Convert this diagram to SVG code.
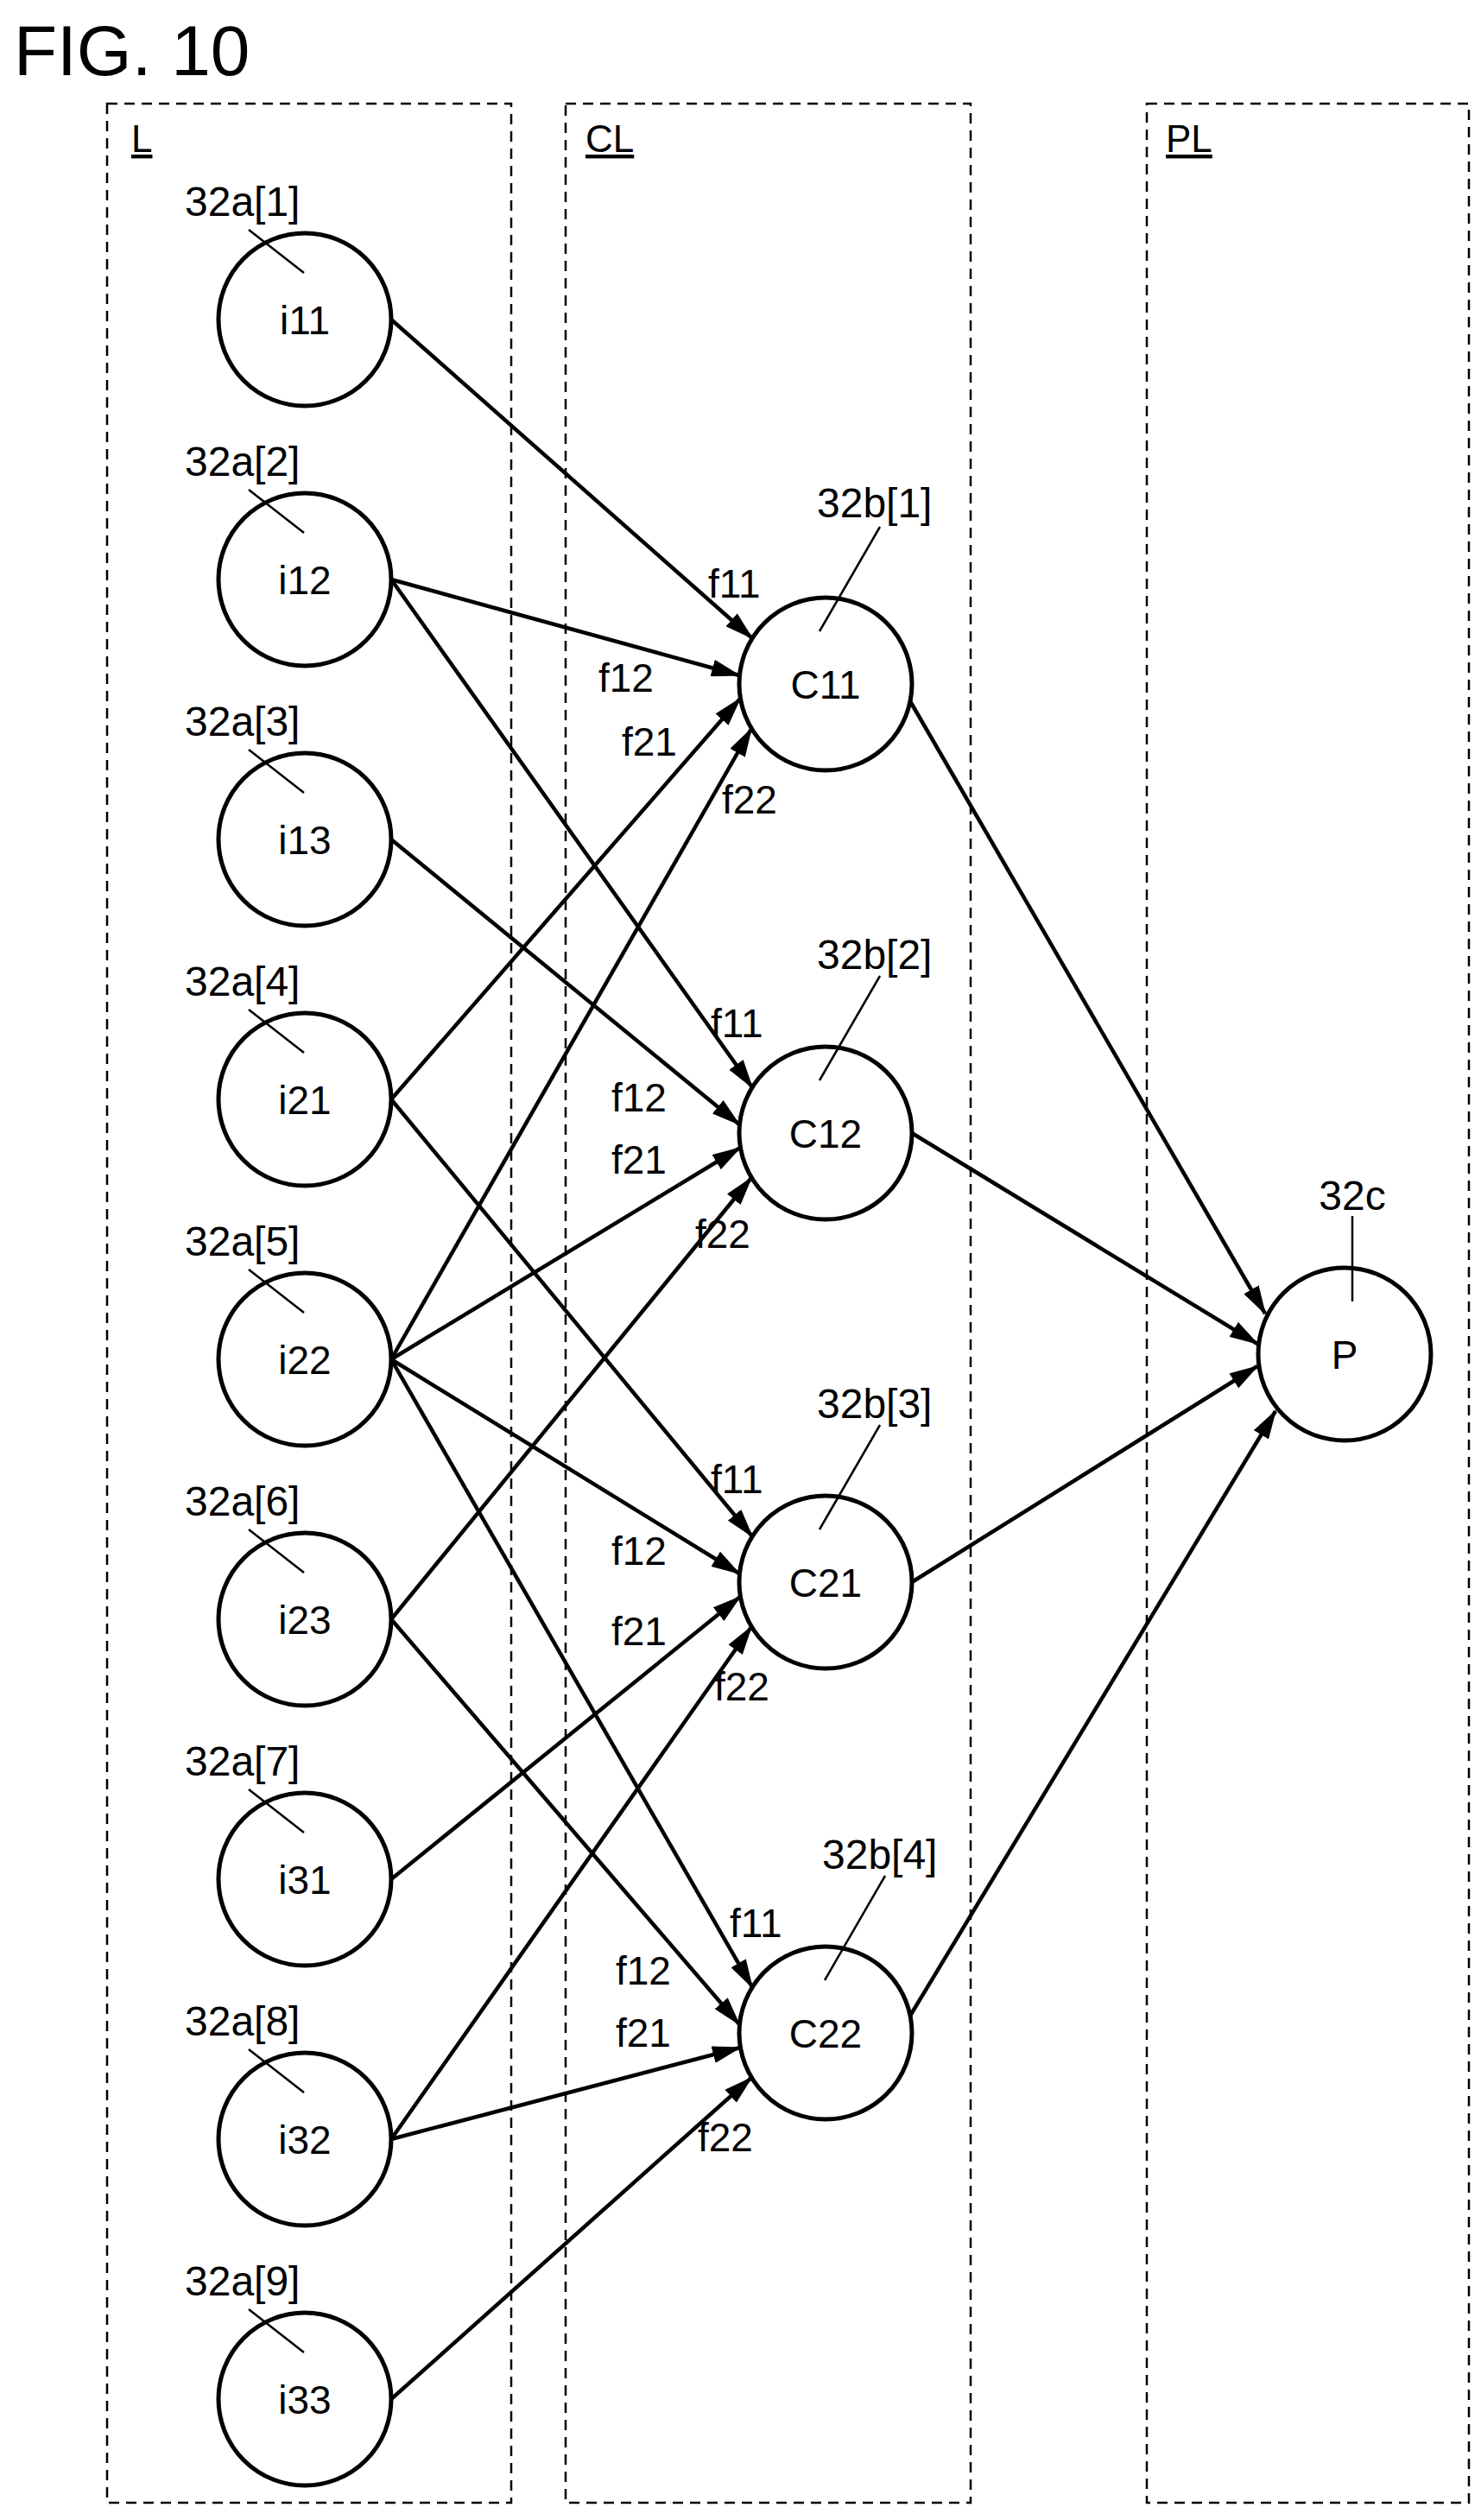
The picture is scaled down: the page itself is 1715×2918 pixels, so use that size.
<svg xmlns="http://www.w3.org/2000/svg" width="1715" height="2918" viewBox="0 0 1715 2918">
<style>
text{font-family:"Liberation Sans",Arial,sans-serif;fill:#000}
.box{fill:none;stroke:#000;stroke-width:2.5;stroke-dasharray:12 8}
.n{fill:#fff;stroke:#000;stroke-width:5}
.nl{font-size:46px;text-anchor:middle}
.ref{font-size:48px}
.ld{stroke:#000;stroke-width:2.5}
.e{stroke:#000;stroke-width:4.5;fill:none;marker-end:url(#ah)}
.el{font-size:46px}
.bl{font-size:44px;text-decoration:underline}
</style>
<defs>
<marker id="ah" markerUnits="userSpaceOnUse" markerWidth="34" markerHeight="20" viewBox="0 0 34 20" refX="32" refY="10" orient="auto">
<path d="M0,0 L34,10 L0,20 Z" fill="#000"/>
</marker>
</defs>
<rect width="1715" height="2918" fill="#fff"/>
<text x="16" y="87" font-size="82">FIG. 10</text>
<g id="layers">
<rect class="box" x="124" y="120" width="468" height="2778"/>
<rect class="box" x="655" y="120" width="469" height="2778"/>
<rect class="box" x="1328" y="120" width="373" height="2778"/>
<text class="bl" x="152" y="176">L</text>
<text class="bl" x="678" y="176">CL</text>
<text class="bl" x="1350" y="176">PL</text>
</g>
<g id="connectors">
<line class="e" x1="453" y1="370" x2="871" y2="739"/>
<line class="e" x1="453" y1="671" x2="856" y2="782"/>
<line class="e" x1="453" y1="1273" x2="857" y2="809"/>
<line class="e" x1="453" y1="1574" x2="870" y2="844"/>
<line class="e" x1="453" y1="671" x2="871" y2="1259"/>
<line class="e" x1="453" y1="972" x2="856" y2="1302"/>
<line class="e" x1="453" y1="1574" x2="857" y2="1329"/>
<line class="e" x1="453" y1="1875" x2="870" y2="1364"/>
<line class="e" x1="453" y1="1273" x2="871" y2="1779"/>
<line class="e" x1="453" y1="1574" x2="856" y2="1822"/>
<line class="e" x1="453" y1="2176" x2="857" y2="1849"/>
<line class="e" x1="453" y1="2477" x2="870" y2="1884"/>
<line class="e" x1="453" y1="1574" x2="871" y2="2301"/>
<line class="e" x1="453" y1="1875" x2="856" y2="2344"/>
<line class="e" x1="453" y1="2477" x2="857" y2="2371"/>
<line class="e" x1="453" y1="2778" x2="870" y2="2406"/>
<line class="e" x1="1054" y1="812" x2="1465" y2="1521"/>
<line class="e" x1="1056" y1="1312" x2="1456" y2="1556"/>
<line class="e" x1="1056" y1="1832" x2="1456" y2="1582"/>
<line class="e" x1="1054" y1="2334" x2="1477" y2="1634"/>
</g>
<g id="edge-labels">
<text class="el" x="820" y="692">f11</text><text class="el" x="693" y="801">f12</text><text class="el" x="720" y="875">f21</text><text class="el" x="836" y="942">f22</text>
<text class="el" x="823" y="1201">f11</text><text class="el" x="708" y="1287">f12</text><text class="el" x="708" y="1359">f21</text><text class="el" x="805" y="1445">f22</text>
<text class="el" x="823" y="1729">f11</text><text class="el" x="708" y="1812">f12</text><text class="el" x="708" y="1905">f21</text><text class="el" x="827" y="1969">f22</text>
<text class="el" x="845" y="2243">f11</text><text class="el" x="713" y="2298">f12</text><text class="el" x="713" y="2370">f21</text><text class="el" x="808" y="2491">f22</text>
</g>
<g id="i11"><circle class="n" cx="353" cy="370" r="100"/><text class="nl" x="353" y="387">i11</text><text class="ref" x="214" y="250">32a[1]</text><line class="ld" x1="288" y1="266" x2="352" y2="316"/></g>
<g id="i12"><circle class="n" cx="353" cy="671" r="100"/><text class="nl" x="353" y="688">i12</text><text class="ref" x="214" y="551">32a[2]</text><line class="ld" x1="288" y1="567" x2="352" y2="617"/></g>
<g id="i13"><circle class="n" cx="353" cy="972" r="100"/><text class="nl" x="353" y="989">i13</text><text class="ref" x="214" y="852">32a[3]</text><line class="ld" x1="288" y1="868" x2="352" y2="918"/></g>
<g id="i21"><circle class="n" cx="353" cy="1273" r="100"/><text class="nl" x="353" y="1290">i21</text><text class="ref" x="214" y="1153">32a[4]</text><line class="ld" x1="288" y1="1169" x2="352" y2="1219"/></g>
<g id="i22"><circle class="n" cx="353" cy="1574" r="100"/><text class="nl" x="353" y="1591">i22</text><text class="ref" x="214" y="1454">32a[5]</text><line class="ld" x1="288" y1="1470" x2="352" y2="1520"/></g>
<g id="i23"><circle class="n" cx="353" cy="1875" r="100"/><text class="nl" x="353" y="1892">i23</text><text class="ref" x="214" y="1755">32a[6]</text><line class="ld" x1="288" y1="1771" x2="352" y2="1821"/></g>
<g id="i31"><circle class="n" cx="353" cy="2176" r="100"/><text class="nl" x="353" y="2193">i31</text><text class="ref" x="214" y="2056">32a[7]</text><line class="ld" x1="288" y1="2072" x2="352" y2="2122"/></g>
<g id="i32"><circle class="n" cx="353" cy="2477" r="100"/><text class="nl" x="353" y="2494">i32</text><text class="ref" x="214" y="2357">32a[8]</text><line class="ld" x1="288" y1="2373" x2="352" y2="2423"/></g>
<g id="i33"><circle class="n" cx="353" cy="2778" r="100"/><text class="nl" x="353" y="2795">i33</text><text class="ref" x="214" y="2658">32a[9]</text><line class="ld" x1="288" y1="2674" x2="352" y2="2724"/></g>
<g id="C11"><circle class="n" cx="956" cy="792" r="100"/><text class="nl" x="956" y="809">C11</text><text class="ref" x="946" y="599">32b[1]</text><line class="ld" x1="1019" y1="610" x2="949" y2="731"/></g>
<g id="C12"><circle class="n" cx="956" cy="1312" r="100"/><text class="nl" x="956" y="1329">C12</text><text class="ref" x="946" y="1122">32b[2]</text><line class="ld" x1="1019" y1="1130" x2="949" y2="1251"/></g>
<g id="C21"><circle class="n" cx="956" cy="1832" r="100"/><text class="nl" x="956" y="1849">C21</text><text class="ref" x="946" y="1642">32b[3]</text><line class="ld" x1="1019" y1="1650" x2="949" y2="1771"/></g>
<g id="C22"><circle class="n" cx="956" cy="2354" r="100"/><text class="nl" x="956" y="2371">C22</text><text class="ref" x="952" y="2164">32b[4]</text><line class="ld" x1="1025" y1="2172" x2="955" y2="2293"/></g>
<g id="P"><circle class="n" cx="1557" cy="1568" r="100"/><text class="nl" x="1557" y="1585">P</text><text class="ref" x="1566" y="1401" text-anchor="middle">32c</text><line class="ld" x1="1566" y1="1408" x2="1566" y2="1507"/></g>
</svg>
